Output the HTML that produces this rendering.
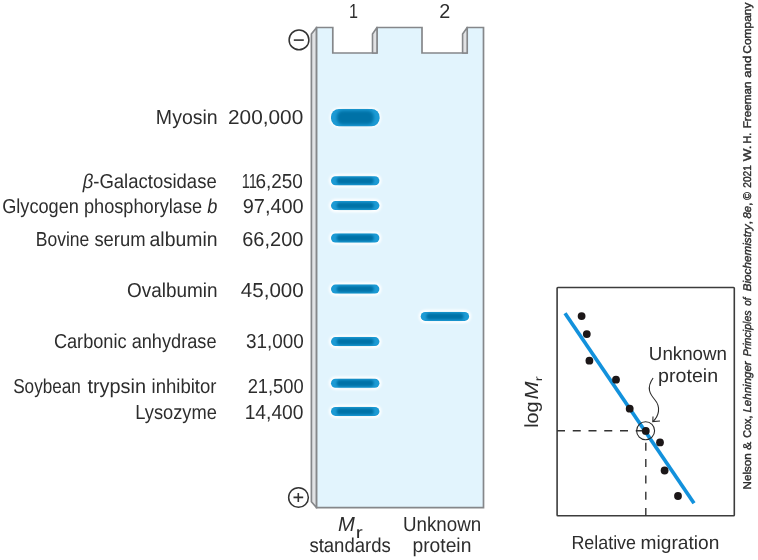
<!DOCTYPE html>
<html><head><meta charset="utf-8">
<style>
html,body{margin:0;padding:0;background:#fff;}
svg{display:block;will-change:transform;}
text{font-family:"Liberation Sans","DejaVu Sans",sans-serif;fill:#2d2d2d;text-rendering:geometricPrecision;}
</style></head>
<body>
<svg width="758" height="560" viewBox="0 0 758 560">
<defs>
<filter id="b1" x="-20%" y="-50%" width="140%" height="200%"><feGaussianBlur stdDeviation="1.0"/></filter>
<filter id="b2" x="-20%" y="-50%" width="140%" height="200%"><feGaussianBlur stdDeviation="1.3"/></filter>
<filter id="b3" x="-20%" y="-50%" width="140%" height="200%"><feGaussianBlur stdDeviation="1.7"/></filter>
<filter id="b0" x="-20%" y="-50%" width="140%" height="200%"><feGaussianBlur stdDeviation="0.5"/></filter>
</defs>
<rect width="758" height="560" fill="#fff"/>
<!-- gel side panel -->
<path d="M311.4 34 L316.6 27.5 L316.6 507.7 L311.4 501.7 Z" fill="#e1e2e4" stroke="#85878a" stroke-width="1.7" stroke-linejoin="round"/>
<!-- gel front -->
<path d="M316.6 27.5 H332.8 V53 H377 V27.5 H422 V53 H467.2 V27.5 H483.5 V507.7 H316.6 Z" fill="#e2f4fd" stroke="#85878a" stroke-width="1.7" stroke-linejoin="miter"/>
<!-- well side faces -->
<path d="M372.5 34 L377 27.5 V53 H372.5 Z" fill="#e1e2e4" stroke="#85878a" stroke-width="1.6" stroke-linejoin="round"/>
<path d="M462.6 34 L467.2 27.5 V53 H462.6 Z" fill="#e1e2e4" stroke="#85878a" stroke-width="1.6" stroke-linejoin="round"/>
<!-- bands -->
<g><rect x="329.6" y="107.4" width="51.4" height="20.4" rx="10" fill="#fff" filter="url(#b1)"/><rect x="331" y="108.9" width="48.6" height="17.4" rx="8" fill="#1a9ad4" filter="url(#b0)"/><rect x="337" y="110.8" width="36.6" height="13.6" rx="5.5" fill="#0272a7" filter="url(#b3)"/></g>
<g transform="translate(355.2,180.7)"><rect x="-26.2" y="-6.6" width="52.4" height="13.2" rx="6.6" fill="#fff" filter="url(#b1)"/><rect x="-24.2" y="-4.5" width="48.4" height="9" rx="4.5" fill="#1a9ad4" filter="url(#b0)"/><rect x="-18.5" y="-3.2" width="37" height="6.4" rx="3.2" fill="#0272a7" filter="url(#b2)"/></g>
<g transform="translate(355.2,205.6)"><rect x="-26.2" y="-6.6" width="52.4" height="13.2" rx="6.6" fill="#fff" filter="url(#b1)"/><rect x="-24.2" y="-4.5" width="48.4" height="9" rx="4.5" fill="#1a9ad4" filter="url(#b0)"/><rect x="-18.5" y="-3.2" width="37" height="6.4" rx="3.2" fill="#0272a7" filter="url(#b2)"/></g>
<g transform="translate(355.2,238)"><rect x="-26.2" y="-6.6" width="52.4" height="13.2" rx="6.6" fill="#fff" filter="url(#b1)"/><rect x="-24.2" y="-4.5" width="48.4" height="9" rx="4.5" fill="#1a9ad4" filter="url(#b0)"/><rect x="-18.5" y="-3.2" width="37" height="6.4" rx="3.2" fill="#0272a7" filter="url(#b2)"/></g>
<g transform="translate(355.2,289.1)"><rect x="-26.2" y="-6.6" width="52.4" height="13.2" rx="6.6" fill="#fff" filter="url(#b1)"/><rect x="-24.2" y="-4.5" width="48.4" height="9" rx="4.5" fill="#1a9ad4" filter="url(#b0)"/><rect x="-18.5" y="-3.2" width="37" height="6.4" rx="3.2" fill="#0272a7" filter="url(#b2)"/></g>
<g transform="translate(355.2,341.6)"><rect x="-26.2" y="-6.6" width="52.4" height="13.2" rx="6.6" fill="#fff" filter="url(#b1)"/><rect x="-24.2" y="-4.5" width="48.4" height="9" rx="4.5" fill="#1a9ad4" filter="url(#b0)"/><rect x="-18.5" y="-3.2" width="37" height="6.4" rx="3.2" fill="#0272a7" filter="url(#b2)"/></g>
<g transform="translate(355.2,383.2)"><rect x="-26.2" y="-6.6" width="52.4" height="13.2" rx="6.6" fill="#fff" filter="url(#b1)"/><rect x="-24.2" y="-4.5" width="48.4" height="9" rx="4.5" fill="#1a9ad4" filter="url(#b0)"/><rect x="-18.5" y="-3.2" width="37" height="6.4" rx="3.2" fill="#0272a7" filter="url(#b2)"/></g>
<g transform="translate(355.2,411.4)"><rect x="-26.2" y="-6.6" width="52.4" height="13.2" rx="6.6" fill="#fff" filter="url(#b1)"/><rect x="-24.2" y="-4.5" width="48.4" height="9" rx="4.5" fill="#1a9ad4" filter="url(#b0)"/><rect x="-18.5" y="-3.2" width="37" height="6.4" rx="3.2" fill="#0272a7" filter="url(#b2)"/></g>
<g transform="translate(444.9,316.4)"><rect x="-26.2" y="-6.6" width="52.4" height="13.2" rx="6.6" fill="#fff" filter="url(#b1)"/><rect x="-24.2" y="-4.5" width="48.4" height="9" rx="4.5" fill="#1a9ad4" filter="url(#b0)"/><rect x="-18.5" y="-3.2" width="37" height="6.4" rx="3.2" fill="#0272a7" filter="url(#b2)"/></g>
<!-- electrode symbols -->
<circle cx="299" cy="39.9" r="9.9" fill="#fff" stroke="#333" stroke-width="1.5"/>
<path d="M293.8 40.1 H303.8" stroke="#333" stroke-width="1.6"/>
<circle cx="298.5" cy="497.5" r="9.85" fill="#fff" stroke="#333" stroke-width="1.5"/>
<path d="M293.5 497.4 H303.2 M298.3 493 V501.9" stroke="#333" stroke-width="1.6"/>
<!-- graph -->
<rect x="557.1" y="287.5" width="177.2" height="228.3" rx="0.8" fill="#fff" stroke="#3c3c3c" stroke-width="1.6"/>
<path d="M557 430.8 H644" stroke="#333" stroke-width="1.4" stroke-dasharray="8 7.75" fill="none"/>
<path d="M645.8 516 V432" stroke="#333" stroke-width="1.4" stroke-dasharray="8 8.3" fill="none"/>
<path d="M565 313.2 L694 503.2" stroke="#1291dc" stroke-width="3.7" fill="none"/>
<g fill="#1c1718">
<circle cx="581.6" cy="316.1" r="3.9"/><circle cx="586.8" cy="334.1" r="3.9"/><circle cx="589.4" cy="360.7" r="3.9"/>
<circle cx="616" cy="379.7" r="3.9"/><circle cx="629.7" cy="408.7" r="3.9"/><circle cx="645.8" cy="430.9" r="3.9"/>
<circle cx="660" cy="442.4" r="3.9"/><circle cx="664.6" cy="470.5" r="3.9"/><circle cx="678" cy="496" r="3.9"/>
</g>
<circle cx="645.6" cy="430.8" r="9" fill="none" stroke="#2b2b2b" stroke-width="1.1"/>
<path d="M653.1 378 C646 388 650 394 655 400 C661 407 659 416 652.8 421.6" fill="none" stroke="#2b2b2b" stroke-width="1.1"/>
<path d="M653 416.6 L652.8 421.6 L660 421" fill="none" stroke="#2b2b2b" stroke-width="1.1"/>
<!-- text -->
<g id="fit" font-size="20.2">
<text x="155.87" y="123.70" textLength="61.86" lengthAdjust="spacingAndGlyphs">Myosin</text>
<text x="82.64" y="187.90" textLength="134.05" lengthAdjust="spacingAndGlyphs"><tspan font-style="italic">β</tspan>-Galactosidase</text>
<text x="2.18" y="212.50" textLength="215.14" lengthAdjust="spacingAndGlyphs">Glycogen phosphorylase <tspan font-style="italic">b</tspan></text>
<text y="245.80"><tspan x="35.78" textLength="53.55" lengthAdjust="spacingAndGlyphs">Bovine</tspan> <tspan x="94.39" textLength="51.14" lengthAdjust="spacingAndGlyphs">serum</tspan> <tspan x="149.58" textLength="67.95" lengthAdjust="spacingAndGlyphs">albumin</tspan></text>
<text x="127.04" y="296.90" textLength="90.54" lengthAdjust="spacingAndGlyphs">Ovalbumin</text>
<text x="53.89" y="348.35" textLength="162.63" lengthAdjust="spacingAndGlyphs">Carbonic anhydrase</text>
<text y="393.15"><tspan x="13.18" textLength="67.73" lengthAdjust="spacingAndGlyphs">Soybean</tspan> <tspan x="87.39" textLength="58.71" lengthAdjust="spacingAndGlyphs">trypsin</tspan> <tspan x="151.59" textLength="64.91" lengthAdjust="spacingAndGlyphs">inhibitor</tspan></text>
<text x="135.25" y="418.70" textLength="81.66" lengthAdjust="spacingAndGlyphs">Lysozyme</text>
<text x="228.02" y="123.70" textLength="75.24" lengthAdjust="spacingAndGlyphs">200,000</text>
<text y="187.90"><tspan x="241.70" textLength="15.20" lengthAdjust="spacingAndGlyphs">11</tspan><tspan x="255.42" textLength="47.51" lengthAdjust="spacingAndGlyphs">6,250</tspan></text>
<text x="242.72" y="212.50" textLength="60.98" lengthAdjust="spacingAndGlyphs">97,400</text>
<text x="242.25" y="245.80" textLength="61.12" lengthAdjust="spacingAndGlyphs">66,200</text>
<text x="240.82" y="296.90" textLength="62.87" lengthAdjust="spacingAndGlyphs">45,000</text>
<text x="245.98" y="348.35" textLength="57.80" lengthAdjust="spacingAndGlyphs">31,000</text>
<text x="247.63" y="393.15" textLength="56.06" lengthAdjust="spacingAndGlyphs">21,500</text>
<text x="244.68" y="418.70" textLength="58.81" lengthAdjust="spacingAndGlyphs">14,400</text>
<text x="349.00" y="17.90" textLength="9.01" lengthAdjust="spacingAndGlyphs">1</text>
<text x="439.32" y="17.90" textLength="11.02" lengthAdjust="spacingAndGlyphs">2</text>
<text x="309.39" y="552.10" textLength="81.45" lengthAdjust="spacingAndGlyphs">standards</text>
<text x="402.99" y="530.80" textLength="78.17" lengthAdjust="spacingAndGlyphs">Unknown</text>
<text x="412.44" y="552.10" textLength="58.92" lengthAdjust="spacingAndGlyphs">protein</text>
<text x="648.84" y="360.00" font-size="19" textLength="78.22" lengthAdjust="spacingAndGlyphs">Unknown</text>
<text x="658.09" y="382.00" font-size="19" textLength="60.02" lengthAdjust="spacingAndGlyphs">protein</text>
<text y="549.00"><tspan x="571.42" font-size="19" textLength="64.61" lengthAdjust="spacingAndGlyphs">Relative</tspan> <tspan x="640.59" font-size="19" textLength="78.72" lengthAdjust="spacingAndGlyphs">migration</tspan></text>
<text x="338.03" y="530.80" textLength="16.84" lengthAdjust="spacingAndGlyphs"><tspan font-style="italic">M</tspan></text>
</g>
<text x="355.7" y="538" font-size="16.5" textLength="7.0" lengthAdjust="spacingAndGlyphs">r</text>
<text transform="translate(541.9,381.3) rotate(-90)" font-size="10.5" x="0" y="0" textLength="5" lengthAdjust="spacingAndGlyphs">r</text>
<g id="vfit">
<text id="w1" transform="translate(751.0,489.38) rotate(-90)" font-size="11.2" x="0" y="0" textLength="36.03" lengthAdjust="spacingAndGlyphs" stroke="#2d2d2d" stroke-width="0.4">Nelson</text>
<text id="w2" transform="translate(751.0,450.00) rotate(-90)" font-size="11.2" x="0" y="0" textLength="8.15" lengthAdjust="spacingAndGlyphs" stroke="#2d2d2d" stroke-width="0.4">&amp;</text>
<text id="w3" transform="translate(751.0,437.79) rotate(-90)" font-size="11.2" x="0" y="0" textLength="22.24" lengthAdjust="spacingAndGlyphs" stroke="#2d2d2d" stroke-width="0.4">Cox,</text>
<text id="w4" transform="translate(751.0,412.54) rotate(-90)" font-size="11.2" x="0" y="0" textLength="51.24" lengthAdjust="spacingAndGlyphs" stroke="#2d2d2d" stroke-width="0.4"><tspan font-style="italic">Lehninger</tspan></text>
<text id="w5" transform="translate(751.0,356.33) rotate(-90)" font-size="11.2" x="0" y="0" textLength="45.95" lengthAdjust="spacingAndGlyphs" stroke="#2d2d2d" stroke-width="0.4"><tspan font-style="italic">Principles</tspan></text>
<text id="w6" transform="translate(751.0,305.81) rotate(-90)" font-size="11.2" x="0" y="0" textLength="8.20" lengthAdjust="spacingAndGlyphs" stroke="#2d2d2d" stroke-width="0.4"><tspan font-style="italic">of</tspan></text>
<text id="w7" transform="translate(751.0,291.30) rotate(-90)" font-size="11.2" x="0" y="0" textLength="70.19" lengthAdjust="spacingAndGlyphs" stroke="#2d2d2d" stroke-width="0.4"><tspan font-style="italic">Biochemistry</tspan>,</text>
<text id="w8" transform="translate(751.0,218.44) rotate(-90)" font-size="11.2" x="0" y="0" textLength="15.78" lengthAdjust="spacingAndGlyphs" stroke="#2d2d2d" stroke-width="0.4"><tspan font-style="italic">8e</tspan>,</text>
<text id="w9" transform="translate(751.0,200.00) rotate(-90)" font-size="11.2" x="0" y="0" textLength="8.00" lengthAdjust="spacingAndGlyphs" stroke="#2d2d2d" stroke-width="0.4">©</text>
<text id="w10" transform="translate(751.0,187.75) rotate(-90)" font-size="11.2" x="0" y="0" textLength="22.56" lengthAdjust="spacingAndGlyphs" stroke="#2d2d2d" stroke-width="0.4">2021</text>
<text id="w11" transform="translate(751.0,161.30) rotate(-90)" font-size="11.2" x="0" y="0" textLength="15.67" lengthAdjust="spacingAndGlyphs" stroke="#2d2d2d" stroke-width="0.4">W.</text>
<text id="w12" transform="translate(751.0,143.77) rotate(-90)" font-size="11.2" x="0" y="0" textLength="11.17" lengthAdjust="spacingAndGlyphs" stroke="#2d2d2d" stroke-width="0.4">H.</text>
<text id="w13" transform="translate(751.0,128.33) rotate(-90)" font-size="11.2" x="0" y="0" textLength="46.98" lengthAdjust="spacingAndGlyphs" stroke="#2d2d2d" stroke-width="0.4">Freeman</text>
<text id="w14" transform="translate(751.0,77.81) rotate(-90)" font-size="11.2" x="0" y="0" textLength="22.10" lengthAdjust="spacingAndGlyphs" stroke="#2d2d2d" stroke-width="0.4">and</text>
<text id="w15" transform="translate(751.0,53.71) rotate(-90)" font-size="11.2" x="0" y="0" textLength="51.12" lengthAdjust="spacingAndGlyphs" stroke="#2d2d2d" stroke-width="0.4">Company</text>
<text id="v4" transform="translate(538.0,427.87) rotate(-90)" font-size="19" x="0" y="0" textLength="26.38" lengthAdjust="spacingAndGlyphs">log</text>
<text id="v5" transform="translate(538.0,399.41) rotate(-90)" font-size="19" x="0" y="0" textLength="18.05" lengthAdjust="spacingAndGlyphs"><tspan font-style="italic">M</tspan></text>
</g>
</svg>
</body></html>
